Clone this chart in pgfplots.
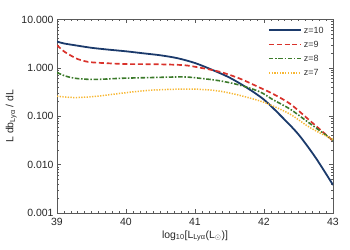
\documentclass[border=0pt]{standalone}
\usepackage{fontspec}
\setmainfont{Liberation Sans}
\usepackage{pgfplots}
\pgfplotsset{compat=1.18}
\definecolor{cnavy}{HTML}{1B3A6B}
\definecolor{cred}{HTML}{D9322B}
\definecolor{cgreen}{HTML}{3B7A2A}
\definecolor{cyel}{HTML}{F7B733}
\tikzset{
  s10/.style={draw=cnavy, line width=1.8pt, solid},
  s9/.style={draw=cred, line width=1.7pt, dash pattern=on 5bp off 2.8bp},
  s8/.style={draw=cgreen, line width=1.6pt, dash pattern=on 4.5bp off 1.7bp on 1.5bp off 1.7bp},
  s7/.style={draw=cyel, line width=1.5pt, dash pattern=on 1.3bp off 1.4bp},
}
\begin{document}
\begin{tikzpicture}
\begin{axis}[
  scale only axis, width=276bp, height=193.5bp,
  ymode=log, xmin=39, xmax=43, ymin=0.001, ymax=10,
  xtick={39,40,41,42,43}, xticklabels={39,40,41,42,43},
  ytick={0.001,0.01,0.1,1,10},
  yticklabels={0.001,0.010,0.100,1.000,10.000},
  minor x tick num=9,
  tick align=inside, tick pos=both,
  major tick length=4bp, minor tick length=2bp,
  axis line style={black!65, line width=0.6pt},
  every tick/.style={black!65, line width=0.5pt},
  /pgf/number format/assume math mode=true,
  tick label style={font=\fontsize{10.5}{12}\selectfont, black!85},
  xticklabel style={yshift=-2bp},
  xlabel={log\textsubscript{10}[L\textsubscript{Lyα}(L\textsubscript{$\odot$})]},
  ylabel={L db\textsubscript{Lyα} / dL},
  label style={font=\fontsize{10.5}{12}\selectfont, black!85},
  xlabel style={yshift=2bp},
  ylabel style={yshift=-2bp},
  legend style={draw=none, fill=none, at={(rel axis cs:0.985,0.984)}, anchor=north east,
    font=\fontsize{9}{11}\selectfont, row sep=2.5bp},
  legend cell align=left,
  legend image code/.code={\path[#1] (0bp,0.5bp) -- (32bp,0.5bp);},
]
\addlegendimage{s10, line width=2pt}\addlegendentry{\textcolor{black!80}{z=10}}
\addlegendimage{s9}\addlegendentry{\textcolor{black!80}{z=9}}
\addlegendimage{s8}\addlegendentry{\textcolor{black!80}{z=8}}
\addlegendimage{s7}\addlegendentry{\textcolor{black!80}{z=7}}
\addplot[s10, smooth, tension=0.5, forget plot] coordinates {
(39.0,3.5) (39.1,3.2) (39.25,2.95) (39.5,2.6) (39.75,2.38) (40.0,2.2) (40.25,2.0)
(40.5,1.82) (40.75,1.58) (41.0,1.26) (41.25,0.91) (41.5,0.63) (41.75,0.39) (42.0,0.22)
(42.25,0.1) (42.5,0.042) (42.75,0.0138) (43.0,0.0038)};
\addplot[s9, smooth, tension=0.5, forget plot] coordinates {
(39.0,2.95) (39.06,2.45) (39.12,2.1) (39.2,1.8) (39.3,1.52) (39.45,1.33) (39.62,1.27)
(40.0,1.2) (40.4,1.19) (40.83,1.14) (41.07,1.01) (41.36,0.83) (41.65,0.6) (41.94,0.39)
(42.13,0.29) (42.38,0.18) (42.67,0.08) (43.0,0.031)};
\addplot[s8, smooth, tension=0.5, forget plot] coordinates {
(39.0,0.8) (39.12,0.68) (39.26,0.61) (39.45,0.58) (39.62,0.58) (39.94,0.61) (40.35,0.63)
(40.83,0.65) (41.07,0.61) (41.36,0.54) (41.65,0.44) (41.94,0.32) (42.13,0.22) (42.38,0.14)
(42.67,0.07) (43.0,0.032)};
\addplot[s7, smooth, tension=0.5, forget plot] coordinates {
(39.0,0.26) (39.12,0.25) (39.26,0.243) (39.45,0.25) (39.62,0.263) (39.94,0.3) (40.35,0.345)
(40.83,0.365) (41.07,0.36) (41.36,0.33) (41.65,0.27) (41.94,0.207) (42.13,0.163) (42.38,0.11)
(42.67,0.058) (43.0,0.033)};
\end{axis}
\pgfresetboundingbox
\path ([xshift=-57bp,yshift=-37bp]current axis.south west) rectangle ([xshift=17bp,yshift=19.5bp]current axis.north east);
\end{tikzpicture}
\end{document}
